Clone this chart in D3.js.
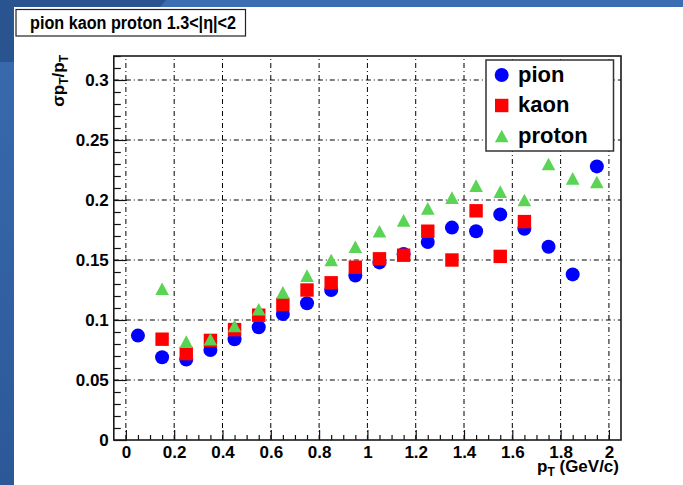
<!DOCTYPE html>
<html>
<head>
<meta charset="utf-8">
<script src="https://cdn.jsdelivr.net/npm/d3@7"></script>
<style>
  body { margin: 0; background: #fff; }
  svg { display: block; }
  text { font-family: "Liberation Sans", Arial, Helvetica, sans-serif; font-weight: bold; fill: #000; }
</style>
</head>
<body>
<svg id="chart" width="683" height="485"></svg>
<script>
// Transverse-momentum resolution sigma(pT)/pT per particle species, 1.3<|eta|<2
const pionPt   = [0.05,0.15,0.25,0.35,0.45,0.55,0.65,0.75,0.85,0.95,1.05,1.15,1.25,1.35,1.45,1.55,1.65,1.75,1.85,1.95];
const pionRes  = [0.087,0.069,0.067,0.075,0.084,0.094,0.105,0.114,0.125,0.137,0.148,0.155,0.165,0.177,0.174,0.188,0.176,0.161,0.138,0.228];

const kaonPt   = [0.15,0.25,0.35,0.45,0.55,0.65,0.75,0.85,0.95,1.05,1.15,1.25,1.35,1.45,1.55,1.65];
const kaonRes  = [0.084,0.072,0.083,0.092,0.104,0.113,0.125,0.131,0.144,0.151,0.154,0.174,0.150,0.191,0.153,0.182];

const protonPt  = [0.15,0.25,0.35,0.45,0.55,0.65,0.75,0.85,0.95,1.05,1.15,1.25,1.35,1.45,1.55,1.65,1.75,1.85,1.95];
const protonRes = [0.126,0.082,0.084,0.095,0.109,0.123,0.137,0.150,0.161,0.174,0.183,0.193,0.202,0.212,0.207,0.200,0.230,0.218,0.215];

const xTicks      = [0,0.2,0.4,0.6,0.8,1,1.2,1.4,1.6,1.8,2];
const xTickLabels = ["0","0.2","0.4","0.6","0.8","1","1.2","1.4","1.6","1.8","2"];
const yTicks      = [0,0.05,0.1,0.15,0.2,0.25,0.3];
const yTickLabels = ["0","0.05","0.1","0.15","0.2","0.25","0.3"];

const seriesNames = ["pion","kaon","proton"];
const titleText = "pion kaon proton 1.3<|\u03b7|<2";

const svg = d3.select("#chart");
const W = 683, H = 485;

// ---- slide backdrop ----
const defs = svg.append("defs");
const grad = defs.append("linearGradient").attr("id","side").attr("x1",0).attr("y1",0).attr("x2",0).attr("y2",1);
grad.append("stop").attr("offset","0%").attr("stop-color","#3a6cb1");
grad.append("stop").attr("offset","100%").attr("stop-color","#2c5898");
svg.append("rect").attr("width",W).attr("height",H).attr("fill","url(#side)");
svg.append("rect").attr("x",0).attr("y",0).attr("width",W).attr("height",7).attr("fill","#3b6db2");
svg.append("path").attr("d","M0,0 L166,0 L160,7 L14,7 L14,62 L0,62 Z").attr("fill","#2a5490");
svg.append("rect").attr("x",14).attr("y",7).attr("width",W-14).attr("height",H-7).attr("fill","#fff");

// ---- scales ----
const x = d3.scaleLinear().domain([-0.05, 2.05]).range([113.8, 621]);
const y = d3.scaleLinear().domain([0, 0.32]).range([440, 56]);
const [x0, x1] = x.range();
const [yb, yt] = y.range();

// ---- grid ----
const grid = svg.append("g").attr("stroke","#000").attr("stroke-width",1).attr("stroke-dasharray","5,3,1,3");
grid.selectAll("line.v").data(xTicks).join("line").attr("class","v")
  .attr("x1",d=>x(d)).attr("x2",d=>x(d)).attr("y1",yb).attr("y2",yt);
grid.selectAll("line.h").data(yTicks.slice(1)).join("line").attr("class","h")
  .attr("x1",x0).attr("x2",x1).attr("y1",d=>y(d)).attr("y2",d=>y(d));

// ---- axes (ticks pointing inward) ----
const axX = d3.axisBottom(x).tickValues(xTicks).tickFormat((d,i)=>xTickLabels[i]).tickSize(-10).tickPadding(6);
const gx = svg.append("g").attr("transform",`translate(0,${yb})`).call(axX);
const axY = d3.axisLeft(y).tickValues(yTicks).tickFormat((d,i)=>yTickLabels[i]).tickSize(-13).tickPadding(5);
const gy = svg.append("g").attr("transform",`translate(${x0},0)`).call(axY);
[gx, gy].forEach(g => {
  g.select(".domain").remove();
  g.selectAll(".tick line").attr("stroke","#111").attr("stroke-width",1.2);
  g.selectAll(".tick text").style("font-size","17px").style("font-weight","bold")
    .style("font-family","'Liberation Sans', Arial, sans-serif").attr("fill","#000");
});

// minor ticks
const xMinor = d3.range(0, 2.0001, 0.05).filter(v => Math.abs(v/0.2 - Math.round(v/0.2)) > 1e-6);
const axXm = d3.axisBottom(x).tickValues(xMinor).tickFormat("").tickSize(-5);
svg.append("g").attr("transform",`translate(0,${yb})`).call(axXm)
  .call(g => { g.select(".domain").remove(); g.selectAll(".tick line").attr("stroke","#111").attr("stroke-width",1.2); });
const yMinor = d3.range(0, 0.3201, 0.01).filter(v => Math.abs(v/0.05 - Math.round(v/0.05)) > 1e-6);
const axYm = d3.axisLeft(y).tickValues(yMinor).tickFormat("").tickSize(-7);
svg.append("g").attr("transform",`translate(${x0},0)`).call(axYm)
  .call(g => { g.select(".domain").remove(); g.selectAll(".tick line").attr("stroke","#111").attr("stroke-width",1.2); });

// frame
svg.append("rect").attr("x",x0).attr("y",yt).attr("width",x1-x0).attr("height",yb-yt)
  .attr("fill","none").attr("stroke","#1a1a1a").attr("stroke-width",1.6);

// ---- markers ----
const colors = { pion: "#0000ff", kaon: "#ff0000", proton: "#59d454" };
const R = 7, S = 13.4, TW = 13.6, TH = 12.6;
function triPath(cx, cy) {
  return `M${cx},${cy - TH/2} L${cx + TW/2},${cy + TH/2} L${cx - TW/2},${cy + TH/2} Z`;
}
const pionData = pionPt.map((p,i)=>({p, v: pionRes[i]}));
const kaonData = kaonPt.map((p,i)=>({p, v: kaonRes[i]}));
const protonData = protonPt.map((p,i)=>({p, v: protonRes[i]}));

svg.append("g").selectAll("circle").data(pionData).join("circle")
  .attr("cx",d=>x(d.p)).attr("cy",d=>y(d.v)).attr("r",R).attr("fill",colors.pion);
svg.append("g").selectAll("rect").data(kaonData).join("rect")
  .attr("x",d=>x(d.p)-S/2).attr("y",d=>y(d.v)-S/2).attr("width",S).attr("height",S).attr("fill",colors.kaon);
svg.append("g").selectAll("path").data(protonData).join("path")
  .attr("d",d=>triPath(x(d.p), y(d.v))).attr("fill",colors.proton);

// ---- legend ----
const leg = svg.append("g");
leg.append("rect").attr("x",486).attr("y",60).attr("width",127.5).attr("height",91)
  .attr("fill","#fff").attr("stroke","#333").attr("stroke-width",1.5);
const legY = [75, 105.5, 136];
const mx = 501.7;
leg.append("circle").attr("cx",mx).attr("cy",legY[0]).attr("r",R).attr("fill",colors.pion);
leg.append("rect").attr("x",mx-S/2).attr("y",legY[1]-S/2).attr("width",S).attr("height",S).attr("fill",colors.kaon);
leg.append("path").attr("d",triPath(mx,legY[2])).attr("fill",colors.proton);
leg.selectAll("text").data(seriesNames).join("text")
  .attr("x",518).attr("y",(d,i)=>legY[i]+6.5).style("font-size","22px").text(d=>d);

// ---- axis titles ----
const yt_ = svg.append("text").attr("transform",`translate(64,55) rotate(-90)`).attr("text-anchor","end")
  .style("font-size","17px");
yt_.append("tspan").text("\u03c3p");
yt_.append("tspan").attr("dy",4).style("font-size","12px").text("T");
yt_.append("tspan").attr("dy",-4).text("/p");
yt_.append("tspan").attr("dy",4).style("font-size","12px").text("T");

const xt = svg.append("text").attr("x",619).attr("y",472).attr("text-anchor","end").style("font-size","17px");
xt.append("tspan").text("p");
xt.append("tspan").attr("dy",4).style("font-size","12px").text("T");
xt.append("tspan").attr("dy",-4).text(" (GeV/c)");

// ---- title box ----
svg.append("rect").attr("x",16).attr("y",9.5).attr("width",229.5).attr("height",26.5)
  .attr("fill","#fff").attr("stroke","#222").attr("stroke-width",1.2);
svg.append("text").attr("x",30).attr("y",28.5).attr("textLength",206).attr("lengthAdjust","spacingAndGlyphs")
  .style("font-size","18px").text(titleText);
</script>
</body>
</html>
